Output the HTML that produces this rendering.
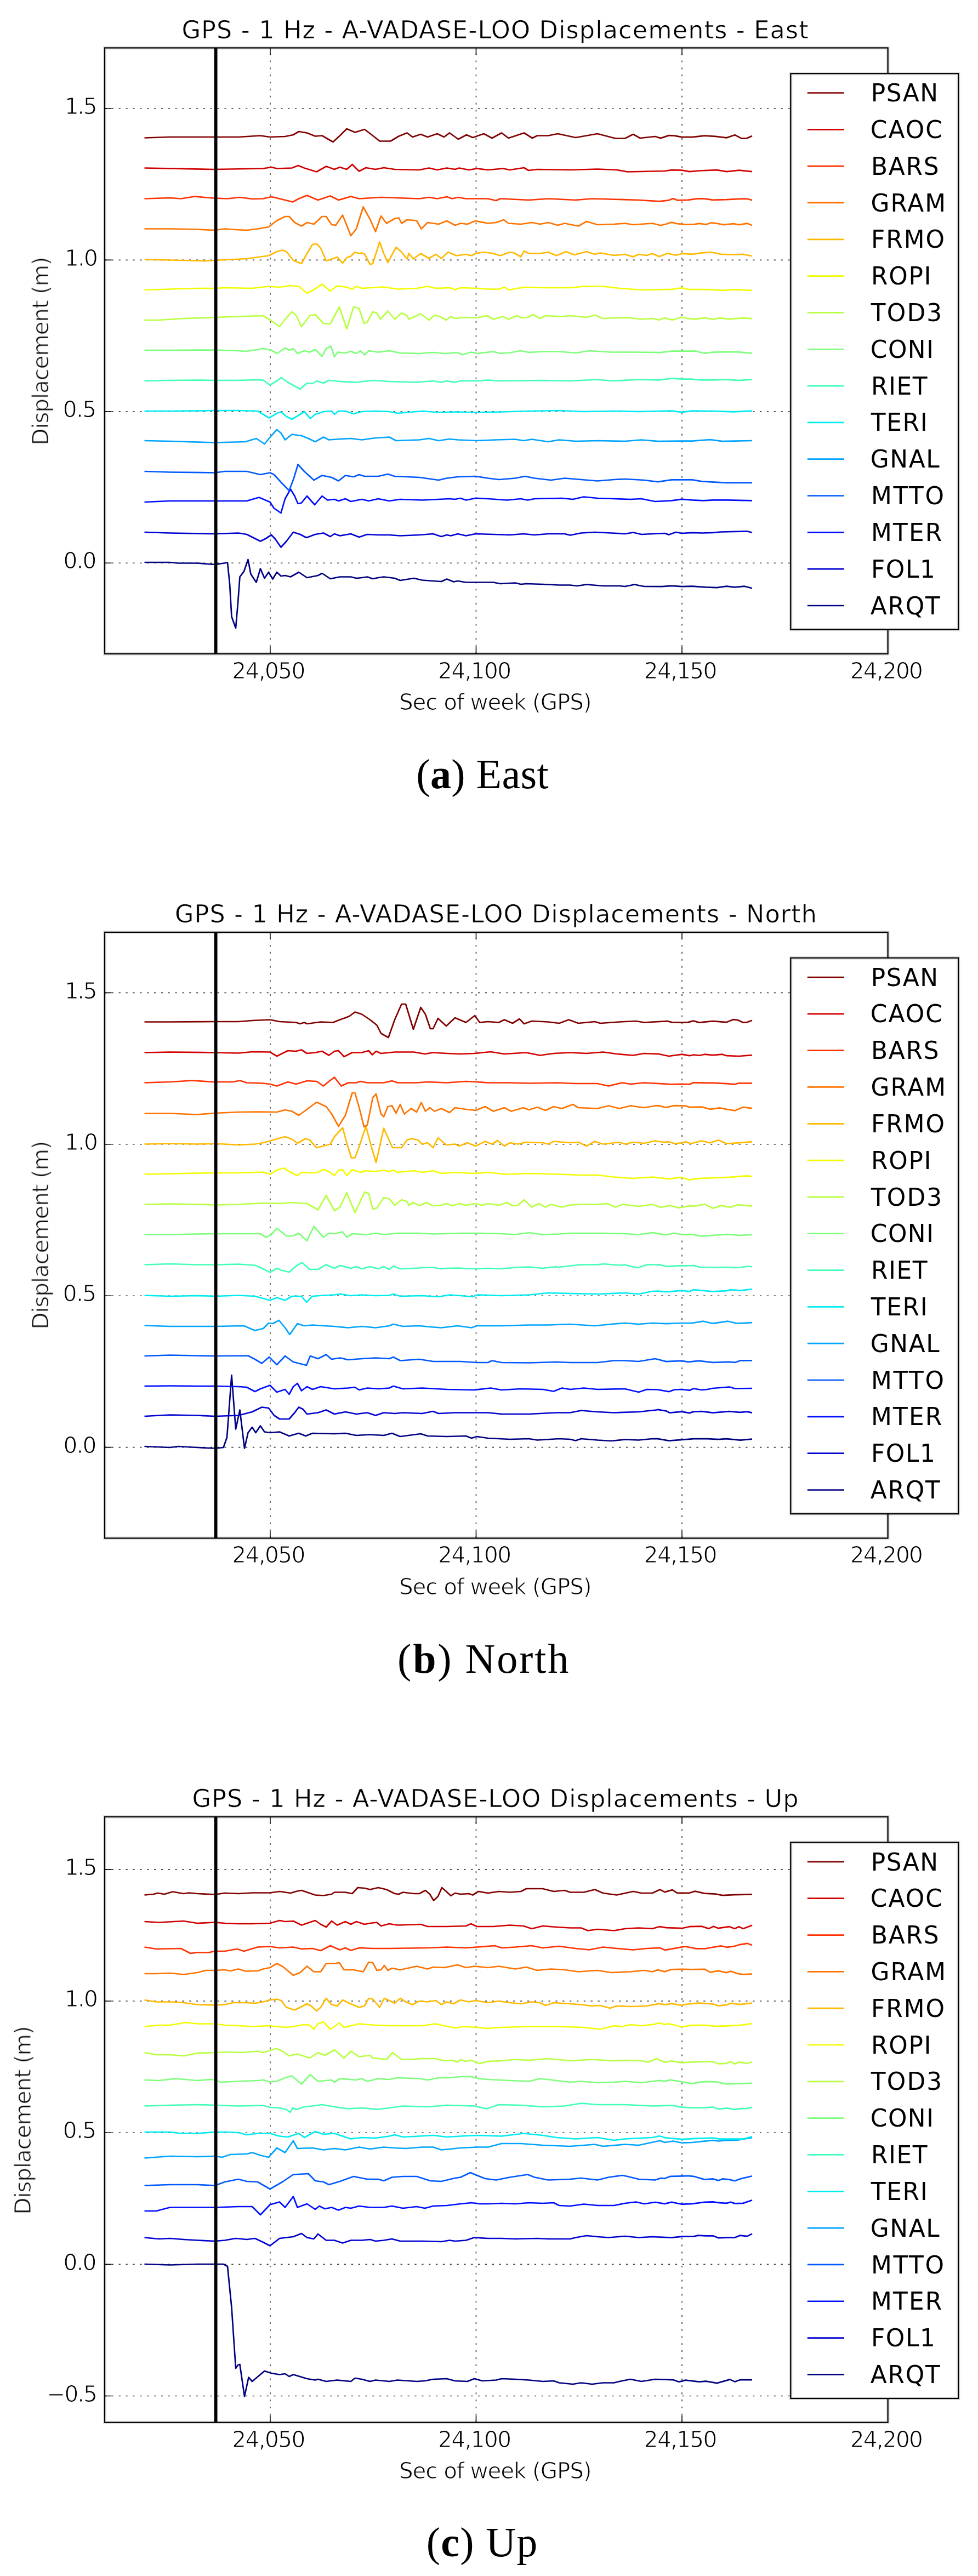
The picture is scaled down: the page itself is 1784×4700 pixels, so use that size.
<!DOCTYPE html><html><head><meta charset="utf-8"><title>GPS 1 Hz A-VADASE-LOO Displacements</title>
<style>html,body{margin:0;padding:0;background:#fff;}svg{display:block;}text{font-family:"DejaVu Sans","Liberation Sans",sans-serif;fill:#000;}.cap{font-family:"Liberation Serif","DejaVu Serif",serif;}.thin{stroke:#fff;stroke-width:1.1px;}.thin2{stroke:#fff;stroke-width:0.6px;}</style></head><body>
<svg width="1784" height="4700" viewBox="0 0 1784 4700">
<rect width="1784" height="4700" fill="#fff"/>
<filter id="soft" filterUnits="userSpaceOnUse" x="0" y="0" width="1784" height="4700"><feGaussianBlur stdDeviation="0.55"/></filter><g filter="url(#soft)">
<g id="plot0">
<clipPath id="clip0"><rect x="191.0" y="87.4" width="1428.60" height="1105.60"/></clipPath>
<path d="M492.90 1193.00V87.40M868.45 1193.00V87.40M1244.00 1193.00V87.40M191.00 1027.20H1619.60M191.00 750.80H1619.60M191.00 474.40H1619.60M191.00 198.00H1619.60" stroke="#333" stroke-width="1.6" stroke-dasharray="3.2 9.65" fill="none"/>
<g clip-path="url(#clip0)" fill="none" stroke-width="2.7" stroke-linejoin="round" stroke-linecap="butt">
<path d="M263.5,1026.0 310.0,1026.0 325.0,1027.5 360.0,1027.5 392.5,1030.0 415.0,1026.5 419.0,1065.0 422.5,1125.0 430.0,1146.0 434.0,1100.0 437.5,1052.5 445.0,1042.5 452.5,1021.0 457.5,1047.5 467.5,1062.5 475.0,1037.5 482.5,1055.0 490.0,1044.0 497.5,1056.5 505.0,1044.0 512.5,1051.0 520.0,1050.0 530.0,1052.5 545.0,1044.0 560.0,1054.0 580.0,1050.0 587.5,1046.0 602.5,1056.0 620.0,1052.5 640.0,1052.5 650.0,1055.0 660.0,1054.0 670.0,1052.5 680.0,1056.0 690.0,1054.0 700.0,1052.5 720.0,1055.0 730.0,1059.0 755.0,1055.0 770.0,1058.5 790.0,1060.0 805.0,1061.0 815.0,1056.5 827.5,1061.5 835.0,1060.0 850.0,1062.5 870.0,1062.5 900.0,1062.5 912.5,1065.0 940.0,1063.5 950.0,1066.0 960.0,1065.0 990.0,1066.0 1020.0,1067.5 1040.0,1067.5 1052.5,1069.0 1070.0,1066.5 1100.0,1069.0 1130.0,1069.0 1140.0,1070.0 1157.5,1066.5 1175.0,1070.0 1207.6,1070.2 1225.2,1068.9 1243.9,1070.2 1262.7,1069.7 1287.8,1071.4 1307.8,1072.2 1325.4,1069.7 1340.4,1071.4 1357.9,1069.7 1372.0,1073.2" stroke="#000080"/>
<path d="M263.5,971.0 310.0,972.5 392.5,974.0 435.0,972.5 450.0,975.0 475.0,987.5 485.0,982.5 495.0,976.0 502.5,984.0 512.5,998.5 522.5,987.5 535.0,971.0 547.5,975.0 559.0,981.0 575.0,975.0 590.0,972.5 602.5,979.0 610.0,974.0 620.0,977.5 640.0,974.0 655.0,980.0 670.0,975.0 690.0,976.0 710.0,976.0 730.0,977.5 765.0,976.0 790.0,974.0 805.0,979.0 815.0,976.0 822.5,977.5 835.0,974.0 850.0,977.5 867.5,974.0 900.0,975.0 930.0,976.0 955.0,974.0 975.0,976.0 1000.0,974.0 1030.0,974.0 1040.0,976.5 1060.0,972.5 1085.0,971.0 1115.0,972.5 1140.0,974.0 1155.0,971.5 1170.0,975.0 1212.6,973.0 1220.1,975.6 1232.7,971.0 1243.9,973.0 1262.7,971.8 1280.3,972.5 1300.3,971.8 1315.3,970.5 1362.9,969.3 1372.0,971.8" stroke="#0000d1"/>
<path d="M263.5,916.0 310.0,914.0 392.5,914.0 450.0,914.0 472.5,907.5 492.5,916.0 500.0,927.5 512.5,936.0 520.0,910.0 530.0,892.5 537.5,905.0 543.5,919.0 550.0,917.5 560.0,905.0 574.0,921.0 587.5,905.0 597.5,912.5 610.0,911.0 617.5,914.0 630.0,910.0 640.0,915.0 660.0,911.0 672.5,914.0 690.0,910.0 710.0,914.0 730.0,911.0 770.0,912.5 800.0,911.0 820.0,910.0 830.0,911.0 840.0,909.0 850.0,912.5 867.5,909.0 890.0,910.0 925.0,912.5 950.0,910.0 962.5,912.5 975.0,910.0 1025.0,909.0 1045.0,911.0 1065.0,906.5 1090.0,909.0 1120.0,910.0 1150.0,911.0 1170.0,910.0 1195.0,915.0 1225.2,913.4 1243.9,910.9 1262.7,912.4 1282.8,913.4 1300.3,912.4 1325.4,912.4 1372.0,913.4" stroke="#0010ff"/>
<path d="M263.5,860.0 310.0,861.5 392.5,862.5 410.0,860.0 450.0,860.0 475.0,866.0 492.5,862.5 500.0,866.0 515.0,882.5 527.5,895.0 536.0,872.5 543.5,847.5 555.0,860.0 572.5,876.0 587.5,867.5 605.0,871.0 617.5,877.5 630.0,867.5 645.0,870.0 655.0,866.0 665.0,869.0 690.0,869.0 707.5,865.0 720.0,869.0 765.0,871.0 800.0,876.0 815.0,872.5 835.0,870.0 867.5,869.0 890.0,872.5 910.0,875.0 940.0,872.5 957.5,869.0 975.0,872.5 1005.0,876.0 1030.0,872.5 1060.0,875.0 1090.0,877.5 1120.0,875.0 1140.0,874.0 1175.0,876.0 1200.1,879.1 1225.2,875.4 1262.7,875.4 1280.3,878.4 1325.4,880.9 1372.0,880.9" stroke="#0058ff"/>
<path d="M263.5,804.0 310.0,805.0 392.5,807.5 430.0,806.5 447.5,806.0 467.5,800.0 482.5,810.0 495.0,795.0 505.0,784.0 512.5,790.0 520.0,802.5 532.5,792.5 550.0,795.0 562.5,800.0 575.0,806.0 590.0,797.5 600.0,802.5 620.0,801.0 640.0,800.0 660.0,802.5 685.0,799.0 710.0,797.5 722.5,804.0 765.0,802.5 782.5,800.0 800.0,804.0 820.0,801.0 835.0,802.5 870.0,804.0 905.0,802.5 940.0,801.5 955.0,804.0 970.0,801.5 1000.0,806.0 1020.0,802.5 1050.0,805.0 1090.0,804.0 1140.0,805.0 1170.0,802.5 1200.1,805.2 1243.9,804.7 1262.7,804.7 1295.3,802.2 1317.8,805.2 1340.4,804.7 1372.0,804.0" stroke="#00a4ff"/>
<path d="M263.5,750.0 310.0,750.0 392.5,749.0 435.0,749.0 470.0,750.0 480.0,756.0 491.0,762.5 505.0,754.0 512.5,751.5 522.5,760.0 532.5,765.0 545.0,757.5 555.0,751.0 566.0,763.5 575.0,756.0 590.0,751.0 605.0,750.0 610.0,756.0 617.5,750.0 630.0,750.0 645.0,755.0 660.0,751.0 685.0,750.0 710.0,751.0 725.0,754.0 770.0,750.0 800.0,752.5 830.0,751.5 870.0,752.5 915.0,751.5 965.0,750.0 1020.0,749.0 1065.0,751.0 1120.0,750.0 1165.0,751.0 1225.2,749.6 1243.9,752.1 1262.7,749.6 1300.3,750.1 1337.9,751.4 1372.0,749.6" stroke="#06ecf1"/>
<path d="M263.5,695.0 310.0,694.0 360.0,693.5 392.5,694.0 430.0,694.0 470.0,693.0 480.0,693.5 492.5,702.5 505.0,695.0 512.5,689.0 525.0,697.5 547.5,710.0 560.0,699.0 570.0,700.0 577.5,695.0 590.0,699.0 600.0,694.0 620.0,696.0 650.0,697.5 680.0,694.0 710.0,696.0 760.0,697.5 790.0,695.0 805.0,697.5 815.0,695.0 829.0,697.5 840.0,695.0 870.0,695.0 890.0,693.5 910.0,695.0 990.0,694.0 1040.0,695.0 1090.0,692.5 1115.0,695.0 1165.0,692.5 1202.6,693.3 1225.2,690.3 1243.9,691.6 1260.2,691.6 1280.3,693.3 1300.3,693.3 1325.4,692.3 1347.9,694.1 1372.0,692.3" stroke="#40ffb7"/>
<path d="M263.5,639.0 310.0,639.0 390.0,638.5 435.0,640.0 450.0,641.0 480.0,636.0 495.0,639.0 505.0,645.0 520.0,635.0 527.5,639.0 535.0,636.0 542.5,645.0 555.0,640.0 565.0,642.5 575.0,637.5 587.5,650.0 595.0,636.0 603.5,631.5 610.0,651.0 616.0,642.5 630.0,644.0 640.0,641.0 650.0,645.0 657.5,640.0 665.0,647.5 672.5,640.0 690.0,642.5 710.0,640.0 730.0,644.0 765.0,645.0 790.0,643.0 810.0,645.0 835.0,643.5 844.0,647.0 860.0,642.5 870.0,645.0 900.0,641.5 912.5,645.0 930.0,643.5 950.0,640.0 965.0,643.0 990.0,641.5 1020.0,641.5 1050.0,644.0 1075.0,640.0 1115.0,642.5 1160.0,642.5 1205.1,643.2 1225.2,640.7 1243.9,640.7 1270.2,640.7 1285.3,644.7 1300.3,642.7 1325.4,642.2 1345.4,642.2 1372.0,644.7" stroke="#7dff7a"/>
<path d="M263.5,584.0 290.0,584.0 335.0,581.0 392.5,579.0 435.0,577.5 480.0,576.0 495.0,585.0 510.0,596.0 520.0,582.5 532.5,569.0 540.0,575.0 550.0,596.0 565.0,576.0 575.0,574.0 590.0,590.0 602.5,591.0 619.0,560.0 632.5,600.0 645.0,560.0 655.0,562.5 664.0,590.0 670.0,587.5 680.0,569.0 687.5,571.0 694.0,582.5 707.5,567.5 720.0,582.5 732.5,571.0 742.5,576.0 746.0,582.5 767.5,572.5 782.5,584.0 792.5,575.0 802.5,577.5 814.0,584.0 822.5,577.5 830.0,581.0 850.0,579.0 867.5,580.0 889.0,576.0 900.0,582.5 917.5,577.5 927.5,582.5 942.5,576.0 952.5,580.0 962.5,579.0 972.5,574.0 985.0,581.0 995.0,576.0 1025.0,577.5 1040.0,576.0 1070.0,579.0 1085.0,575.0 1100.0,581.0 1120.0,580.0 1150.0,580.0 1170.0,582.5 1190.0,581.0 1202.6,583.8 1212.6,580.1 1226.4,583.8 1242.7,578.8 1255.2,581.3 1270.2,582.1 1285.3,579.6 1300.3,582.6 1312.8,580.1 1330.4,582.1 1355.4,580.1 1372.0,581.3" stroke="#b7ff40"/>
<path d="M263.5,529.0 310.0,527.5 360.0,526.0 392.5,526.0 410.0,525.0 460.0,526.0 490.0,522.5 510.0,524.0 530.0,521.0 545.0,522.5 560.0,535.0 570.0,530.0 587.5,518.5 602.5,531.0 615.0,521.5 630.0,523.5 642.5,527.5 650.0,522.5 660.0,526.0 700.0,523.5 725.0,527.5 760.0,526.0 780.0,522.5 795.0,526.0 820.0,525.0 830.0,528.5 840.0,525.0 870.0,526.0 890.0,527.5 910.0,527.5 920.0,524.0 927.5,529.0 950.0,525.0 960.0,524.0 990.0,525.0 1040.0,525.0 1065.0,522.5 1100.0,522.5 1130.0,526.0 1170.0,529.0 1225.2,527.8 1243.9,525.3 1255.2,527.8 1300.3,528.3 1317.8,529.8 1337.9,528.3 1372.0,529.8" stroke="#f1fc06"/>
<path d="M263.5,473.5 335.0,475.0 375.0,476.0 392.5,475.0 410.0,474.0 450.0,472.0 475.0,468.5 490.0,466.5 505.0,459.0 515.0,456.5 522.5,459.0 535.0,475.0 550.0,481.0 560.0,462.5 570.0,446.0 577.5,445.0 585.0,452.5 595.0,476.0 605.0,472.5 615.0,469.0 625.0,480.0 632.5,470.0 640.0,467.5 647.5,460.0 655.0,462.5 660.0,461.5 665.0,463.5 675.0,482.5 680.0,481.0 692.5,441.5 700.0,462.5 707.5,479.0 722.5,451.0 732.5,460.0 742.5,472.5 746.0,462.5 754.0,472.5 767.5,462.5 782.5,471.5 795.0,464.0 805.0,471.5 817.5,460.0 832.5,466.5 850.0,464.0 860.0,466.5 867.5,462.5 882.5,460.0 900.0,462.5 912.5,466.5 930.0,460.0 937.5,461.5 950.0,468.5 956.0,458.0 965.0,462.5 985.0,462.5 1000.0,460.0 1015.0,466.5 1032.5,459.0 1047.5,465.0 1070.0,459.0 1085.0,464.0 1095.0,461.5 1120.0,466.0 1140.0,464.0 1155.0,468.5 1165.0,464.0 1180.0,466.0 1190.0,462.5 1202.6,468.2 1217.6,462.2 1232.7,465.7 1243.9,462.7 1262.7,463.9 1280.3,461.4 1297.8,460.2 1315.3,463.9 1337.9,464.7 1355.4,463.9 1372.0,467.2" stroke="#ffb900"/>
<path d="M263.5,417.5 310.0,417.5 360.0,418.5 392.5,420.0 410.0,417.5 430.0,419.0 450.0,420.0 470.0,417.5 490.0,414.0 505.0,402.5 520.0,395.0 527.5,395.0 537.5,406.0 550.0,412.5 560.0,406.0 572.5,409.0 587.5,395.0 595.0,395.0 605.0,410.0 612.5,411.0 625.0,392.5 640.0,430.0 650.0,417.5 662.5,377.5 675.0,400.0 685.0,422.5 695.0,394.0 705.0,407.5 720.0,399.0 727.5,397.5 732.5,407.5 742.5,401.0 760.0,402.5 768.5,417.5 780.0,406.0 800.0,409.0 815.0,403.0 830.0,411.0 840.0,407.5 852.5,409.0 867.5,403.0 890.0,407.5 905.0,406.0 919.0,401.0 927.5,407.5 950.0,409.0 970.0,406.0 985.0,409.0 1000.0,406.0 1017.5,411.0 1030.0,407.5 1055.0,412.5 1070.0,404.0 1090.0,410.0 1120.0,409.0 1140.0,407.5 1155.0,410.0 1190.0,407.5 1205.1,411.3 1215.1,408.8 1225.2,405.6 1235.2,408.1 1250.2,409.6 1265.2,409.6 1275.3,407.6 1287.8,409.6 1297.8,406.3 1310.3,408.1 1320.3,410.1 1337.9,408.1 1347.9,410.1 1362.9,407.6 1372.0,411.3" stroke="#ff7300"/>
<path d="M263.5,362.5 310.0,361.0 330.0,362.5 355.0,358.5 390.0,361.5 415.0,362.5 437.5,360.0 460.0,363.0 480.0,362.5 495.0,359.0 510.0,362.5 534.0,368.5 545.0,362.5 560.0,356.5 580.0,365.0 602.5,357.5 617.5,365.0 640.0,358.5 655.0,362.5 695.0,360.0 765.0,362.5 782.5,360.0 797.5,362.5 815.0,359.0 825.0,362.5 835.0,360.0 850.0,362.5 890.0,362.5 905.0,366.0 912.5,362.5 965.0,365.0 1000.0,362.5 1050.0,365.0 1080.0,362.5 1165.0,365.0 1202.6,367.3 1220.1,365.3 1227.7,362.3 1235.2,365.3 1255.2,364.8 1272.7,362.3 1287.8,362.8 1300.3,364.8 1325.4,364.1 1350.4,362.8 1362.9,362.8 1372.0,365.3" stroke="#ff3000"/>
<path d="M263.5,306.5 390.0,309.0 480.0,307.5 495.0,305.0 505.0,307.5 532.5,306.5 544.0,302.0 555.0,306.5 577.5,313.5 595.0,303.5 610.0,309.0 620.0,305.0 632.5,309.0 642.5,300.0 655.0,312.5 667.5,306.0 685.0,309.0 700.0,306.0 720.0,309.0 765.0,310.0 782.5,306.5 797.5,310.0 815.0,306.5 830.0,309.0 837.5,306.5 855.0,310.0 870.0,307.5 890.0,310.0 917.5,307.5 930.0,310.0 956.0,306.0 964.0,311.0 980.0,309.0 1040.0,310.0 1090.0,308.5 1125.0,310.0 1145.0,313.5 1190.0,312.5 1212.6,312.0 1225.2,310.2 1243.9,310.7 1257.7,313.2 1275.3,311.5 1307.8,310.2 1325.4,313.2 1347.9,310.7 1372.0,313.2" stroke="#d10000"/>
<path d="M263.5,251.5 310.0,250.0 390.0,250.0 435.0,250.0 475.0,247.5 492.5,250.0 520.0,249.0 535.0,246.0 545.0,240.0 560.0,242.5 575.0,248.5 587.5,247.5 607.5,259.0 620.0,247.5 632.5,235.0 647.5,241.5 665.0,236.0 680.0,247.5 692.5,257.5 712.5,257.5 727.5,248.5 742.5,242.5 752.5,250.0 767.5,245.0 780.0,250.0 797.5,244.0 810.0,250.0 820.0,242.5 836.0,254.0 851.0,246.0 862.5,251.0 882.5,244.0 897.5,252.0 915.0,242.5 927.5,252.0 956.0,242.5 971.0,252.0 980.0,247.5 1000.0,247.5 1017.5,244.0 1050.0,251.0 1090.0,244.0 1122.5,252.5 1140.0,252.5 1155.0,245.0 1167.5,252.0 1195.0,249.0 1205.1,252.1 1220.1,247.1 1230.2,247.6 1243.9,250.1 1262.7,250.1 1285.3,247.6 1305.3,248.8 1325.4,251.4 1340.4,246.3 1352.9,252.6 1361.7,252.6 1372.0,248.1" stroke="#800000"/>
</g>
<path d="M393.60 87.40V1193.00" stroke="#000" stroke-width="5.8"/>
<path d="M492.90 1193.00v-12.6M492.90 87.40v12.6M868.45 1193.00v-12.6M868.45 87.40v12.6M1244.00 1193.00v-12.6M1244.00 87.40v12.6M191.00 1027.20h12.6M1619.60 1027.20h-12.6M191.00 750.80h12.6M1619.60 750.80h-12.6M191.00 474.40h12.6M1619.60 474.40h-12.6M191.00 198.00h12.6M1619.60 198.00h-12.6" stroke="#000" stroke-width="1.6" fill="none"/>
<rect x="191.0" y="87.4" width="1428.60" height="1105.60" fill="none" stroke="#000" stroke-opacity="0.12" stroke-width="6.0"/>
<rect x="191.0" y="87.4" width="1428.60" height="1105.60" fill="none" stroke="#000" stroke-width="2.2"/>
<rect x="1442.3" y="134.20" width="306.00" height="1014.40" fill="#fff" stroke="#000" stroke-opacity="0.12" stroke-width="6.0"/>
<rect x="1442.3" y="134.20" width="306.00" height="1014.40" fill="none" stroke="#000" stroke-width="2.2"/>
<path d="M1472.8 169.50H1539.8" stroke="#800000" stroke-width="2.7"/>
<path d="M1472.8 236.32H1539.8" stroke="#d10000" stroke-width="2.7"/>
<path d="M1472.8 303.14H1539.8" stroke="#ff3000" stroke-width="2.7"/>
<path d="M1472.8 369.96H1539.8" stroke="#ff7300" stroke-width="2.7"/>
<path d="M1472.8 436.78H1539.8" stroke="#ffb900" stroke-width="2.7"/>
<path d="M1472.8 503.60H1539.8" stroke="#f1fc06" stroke-width="2.7"/>
<path d="M1472.8 570.42H1539.8" stroke="#b7ff40" stroke-width="2.7"/>
<path d="M1472.8 637.24H1539.8" stroke="#7dff7a" stroke-width="2.7"/>
<path d="M1472.8 704.06H1539.8" stroke="#40ffb7" stroke-width="2.7"/>
<path d="M1472.8 770.88H1539.8" stroke="#06ecf1" stroke-width="2.7"/>
<path d="M1472.8 837.70H1539.8" stroke="#00a4ff" stroke-width="2.7"/>
<path d="M1472.8 904.52H1539.8" stroke="#0058ff" stroke-width="2.7"/>
<path d="M1472.8 971.34H1539.8" stroke="#0010ff" stroke-width="2.7"/>
<path d="M1472.8 1038.16H1539.8" stroke="#0000d1" stroke-width="2.7"/>
<path d="M1472.8 1104.98H1539.8" stroke="#000080" stroke-width="2.7"/>
</g>
<g id="plot1">
<clipPath id="clip1"><rect x="191.0" y="1700.9" width="1428.60" height="1105.60"/></clipPath>
<path d="M492.90 2806.50V1700.90M868.45 2806.50V1700.90M1244.00 2806.50V1700.90M191.00 2640.60H1619.60M191.00 2364.20H1619.60M191.00 2087.80H1619.60M191.00 1811.40H1619.60" stroke="#333" stroke-width="1.6" stroke-dasharray="3.2 9.65" fill="none"/>
<g clip-path="url(#clip1)" fill="none" stroke-width="2.7" stroke-linejoin="round" stroke-linecap="butt">
<path d="M263.5,2639.0 310.0,2641.0 325.0,2639.0 360.0,2641.0 392.5,2642.5 407.5,2641.0 414.0,2622.5 422.5,2509.0 430.0,2607.5 437.5,2572.5 446.0,2642.5 452.5,2614.0 460.0,2604.0 466.5,2614.0 475.0,2601.5 482.5,2612.5 492.5,2614.0 510.0,2612.5 527.5,2620.0 545.0,2615.0 557.5,2620.0 570.0,2615.0 610.0,2616.0 630.0,2615.0 650.0,2619.0 675.0,2617.5 700.0,2619.0 715.0,2615.0 730.0,2621.0 767.5,2616.0 780.0,2620.0 815.0,2621.0 850.0,2620.0 860.0,2624.0 870.0,2621.0 890.0,2624.0 930.0,2626.0 965.0,2625.0 980.0,2627.5 1020.0,2625.0 1040.0,2626.0 1050.0,2628.5 1060.0,2625.0 1090.0,2627.5 1115.0,2629.0 1140.0,2626.5 1165.0,2627.5 1190.0,2625.0 1200.1,2625.2 1220.1,2628.7 1243.9,2626.9 1265.2,2625.2 1290.3,2625.2 1310.3,2626.2 1325.4,2625.2 1350.4,2627.7 1372.0,2625.7" stroke="#000080"/>
<path d="M263.5,2584.0 310.0,2581.5 360.0,2582.5 392.5,2584.0 435.0,2582.5 460.0,2576.0 477.5,2567.5 490.0,2569.0 500.0,2582.5 510.0,2589.0 527.5,2589.0 537.5,2577.5 545.0,2567.5 552.5,2571.0 560.0,2580.0 580.0,2577.5 595.0,2572.5 610.0,2580.0 630.0,2576.0 650.0,2580.0 670.0,2577.5 685.0,2582.5 700.0,2577.5 720.0,2579.0 735.0,2577.5 770.0,2579.0 790.0,2575.0 800.0,2579.0 830.0,2577.5 870.0,2577.5 890.0,2577.5 915.0,2580.0 965.0,2580.0 1015.0,2577.5 1040.0,2577.5 1060.0,2573.5 1090.0,2576.0 1120.0,2577.5 1165.0,2576.0 1197.5,2572.5 1200.1,2571.8 1215.1,2574.3 1221.4,2577.6 1243.9,2575.6 1257.7,2578.1 1265.2,2575.6 1280.3,2575.1 1300.3,2577.6 1330.4,2575.1 1350.4,2576.8 1362.9,2575.6 1372.0,2577.6" stroke="#0000d1"/>
<path d="M263.5,2529.0 310.0,2528.5 360.0,2529.0 392.5,2529.0 435.0,2530.0 450.0,2531.0 465.0,2539.0 475.0,2534.0 492.5,2527.5 505.0,2540.0 520.0,2535.0 527.5,2544.0 535.0,2530.0 542.5,2524.0 550.0,2537.5 560.0,2530.0 570.0,2535.0 585.0,2530.0 610.0,2534.0 635.0,2532.5 647.5,2531.0 655.0,2536.0 670.0,2532.5 690.0,2534.0 710.0,2532.5 717.5,2529.0 735.0,2534.0 770.0,2532.5 815.0,2535.0 865.0,2536.0 895.0,2532.5 915.0,2536.0 950.0,2534.0 990.0,2535.0 1010.0,2538.5 1025.0,2532.5 1040.0,2535.0 1065.0,2532.5 1090.0,2535.0 1140.0,2534.0 1165.0,2540.0 1180.0,2535.0 1200.1,2535.5 1220.1,2539.2 1230.2,2535.5 1243.9,2535.0 1257.7,2536.7 1265.2,2533.5 1280.3,2536.0 1290.3,2535.0 1300.3,2533.0 1330.4,2530.5 1340.4,2533.5 1372.0,2533.0" stroke="#0010ff"/>
<path d="M263.5,2474.0 310.0,2472.5 360.0,2473.5 392.5,2474.0 452.5,2473.5 465.0,2480.0 477.5,2487.5 491.0,2476.0 505.0,2490.0 520.0,2474.0 535.0,2485.0 559.0,2491.0 566.0,2474.0 580.0,2479.0 595.0,2471.5 605.0,2480.0 620.0,2477.5 635.0,2481.0 660.0,2479.0 685.0,2477.5 710.0,2479.0 717.5,2476.0 730.0,2482.5 765.0,2480.0 790.0,2484.0 840.0,2484.0 870.0,2486.0 890.0,2486.0 897.5,2482.5 915.0,2486.0 965.0,2486.5 1015.0,2485.0 1040.0,2486.0 1090.0,2486.0 1120.0,2482.5 1140.0,2482.5 1165.0,2484.0 1195.0,2479.0 1215.1,2484.1 1243.9,2482.9 1255.2,2484.9 1275.3,2482.9 1300.3,2485.9 1330.4,2484.9 1340.4,2485.9 1350.4,2482.4 1372.0,2482.4" stroke="#0058ff"/>
<path d="M263.5,2418.5 310.0,2420.0 360.0,2420.0 392.5,2420.0 445.0,2419.0 465.0,2427.5 480.0,2424.0 490.0,2414.0 497.5,2415.0 509.0,2409.0 520.0,2422.5 528.5,2435.0 542.5,2415.0 555.0,2419.0 570.0,2417.5 590.0,2419.0 610.0,2420.0 635.0,2422.5 660.0,2420.0 685.0,2422.5 710.0,2419.0 717.5,2416.0 735.0,2420.0 765.0,2419.0 785.0,2421.0 805.0,2422.5 835.0,2419.0 860.0,2422.5 870.0,2419.0 915.0,2419.0 965.0,2417.5 1000.0,2417.5 1040.0,2416.0 1085.0,2419.0 1115.0,2416.0 1140.0,2414.0 1165.0,2416.0 1190.0,2414.0 1215.1,2415.2 1243.9,2414.0 1262.7,2414.0 1282.8,2410.7 1300.3,2414.7 1327.9,2410.7 1345.4,2414.7 1372.0,2413.2" stroke="#00a4ff"/>
<path d="M263.5,2363.5 310.0,2365.0 360.0,2364.0 392.5,2365.0 435.0,2363.5 465.0,2365.0 480.0,2369.0 492.5,2372.5 505.0,2367.5 520.0,2372.5 532.5,2365.0 550.0,2365.0 559.0,2376.0 570.0,2365.0 590.0,2363.5 610.0,2362.5 620.0,2361.0 640.0,2364.0 660.0,2362.5 685.0,2364.0 710.0,2363.5 717.5,2361.0 730.0,2365.0 770.0,2364.0 800.0,2366.0 820.0,2362.5 840.0,2364.0 862.5,2366.0 870.0,2362.5 915.0,2364.0 965.0,2362.5 1000.0,2359.0 1040.0,2360.0 1090.0,2361.0 1140.0,2359.0 1165.0,2361.0 1190.0,2356.0 1200.1,2355.6 1215.1,2357.1 1243.9,2354.6 1257.7,2356.4 1265.2,2353.1 1300.3,2356.4 1325.4,2355.1 1332.9,2353.1 1350.4,2354.6 1372.0,2352.1" stroke="#06ecf1"/>
<path d="M263.5,2307.5 310.0,2306.0 360.0,2307.5 392.5,2307.5 435.0,2306.5 465.0,2308.5 480.0,2315.0 492.5,2321.5 505.0,2314.0 512.5,2317.5 527.5,2321.0 540.0,2310.0 551.0,2303.5 565.0,2316.0 580.0,2316.0 595.0,2307.5 610.0,2314.0 620.0,2309.0 640.0,2314.0 650.0,2311.0 660.0,2315.0 675.0,2311.0 690.0,2315.0 700.0,2311.0 710.0,2316.0 717.5,2310.0 730.0,2315.0 765.0,2313.5 770.0,2312.5 790.0,2312.5 805.0,2315.0 815.0,2314.0 840.0,2313.5 840.0,2314.0 870.0,2315.0 870.0,2315.0 890.0,2314.0 915.0,2315.0 915.0,2315.0 940.0,2312.5 965.0,2311.5 990.0,2314.0 990.0,2314.0 1015.0,2311.0 1015.0,2312.5 1050.0,2308.5 1060.0,2307.5 1090.0,2307.5 1100.0,2306.0 1130.0,2308.5 1140.0,2307.5 1155.0,2311.5 1165.0,2312.5 1180.0,2307.5 1180.0,2307.5 1200.1,2307.5 1202.6,2307.4 1215.1,2310.5 1215.1,2310.9 1243.9,2309.1 1243.9,2309.5 1262.7,2309.1 1265.2,2308.8 1275.3,2311.6 1275.3,2312.0 1300.3,2312.4 1300.3,2312.5 1325.4,2312.0 1337.9,2312.9 1350.4,2312.5 1360.4,2310.9 1362.9,2310.5 1370.9,2310.9 1372.0,2311.3" stroke="#40ffb7"/>
<path d="M263.5,2252.5 310.0,2252.5 360.0,2251.5 392.5,2251.0 435.0,2251.0 475.0,2251.0 485.0,2257.5 495.0,2252.5 505.0,2241.0 522.5,2255.0 535.0,2255.0 545.0,2250.0 560.0,2264.0 572.5,2237.5 590.0,2257.5 600.0,2250.0 610.0,2251.0 625.0,2247.5 632.5,2257.5 642.5,2251.0 670.0,2252.5 685.0,2250.0 700.0,2252.5 725.0,2250.0 765.0,2250.0 790.0,2251.5 840.0,2250.0 870.0,2250.0 915.0,2251.0 940.0,2252.5 965.0,2249.0 990.0,2252.5 1020.0,2251.5 1040.0,2250.0 1065.0,2250.0 1100.0,2250.0 1140.0,2251.0 1165.0,2252.5 1190.0,2249.0 1200.1,2250.7 1215.1,2253.2 1230.2,2249.7 1243.9,2252.7 1260.2,2252.2 1280.3,2255.3 1300.3,2254.0 1325.4,2252.2 1350.4,2254.0 1372.0,2252.7" stroke="#7dff7a"/>
<path d="M263.5,2197.5 310.0,2196.5 360.0,2197.5 392.5,2198.5 435.0,2197.5 480.0,2195.0 510.0,2196.0 530.0,2194.0 560.0,2196.0 567.5,2200.0 580.0,2207.5 595.0,2181.0 610.0,2209.0 620.0,2202.5 632.5,2176.0 647.5,2212.5 665.0,2175.0 672.5,2177.5 680.0,2206.0 687.5,2204.0 700.0,2185.0 710.0,2187.5 720.0,2199.0 732.5,2189.0 742.5,2192.5 746.0,2199.0 754.0,2194.0 765.0,2200.0 777.5,2194.0 790.0,2200.0 805.0,2199.0 815.0,2196.0 825.0,2200.0 837.5,2196.0 850.0,2199.0 867.5,2196.0 880.0,2199.0 890.0,2196.0 910.0,2199.0 925.0,2194.0 935.0,2200.0 945.0,2199.0 956.0,2189.0 970.0,2202.5 982.5,2196.0 995.0,2202.5 1005.0,2197.5 1025.0,2202.5 1040.0,2198.5 1065.0,2197.5 1090.0,2197.5 1107.5,2196.0 1122.5,2202.5 1135.0,2197.5 1165.0,2201.0 1190.0,2197.5 1205.1,2202.6 1222.6,2199.6 1237.7,2203.9 1243.9,2202.6 1255.2,2200.6 1270.2,2200.1 1285.3,2197.1 1300.3,2204.6 1315.3,2199.6 1332.9,2202.6 1345.4,2198.1 1372.0,2200.6" stroke="#b7ff40"/>
<path d="M263.5,2142.5 310.0,2141.5 392.5,2140.0 435.0,2140.0 480.0,2138.5 492.5,2142.5 505.0,2135.0 517.5,2131.0 527.5,2137.5 542.5,2145.0 550.0,2139.0 570.0,2140.0 580.0,2139.0 590.0,2133.5 600.0,2137.5 610.0,2145.0 617.5,2135.0 625.0,2134.0 632.5,2145.0 642.5,2134.0 652.5,2137.5 660.0,2139.0 665.0,2136.0 685.0,2137.5 700.0,2135.0 710.0,2137.5 717.5,2135.0 725.0,2139.0 755.0,2136.0 770.0,2139.0 790.0,2136.0 805.0,2141.0 830.0,2139.0 865.0,2141.0 890.0,2139.0 920.0,2142.5 965.0,2141.0 1020.0,2142.5 1060.0,2144.0 1090.0,2144.0 1120.0,2147.5 1155.0,2150.0 1190.0,2147.5 1220.1,2150.9 1243.9,2147.9 1257.7,2152.9 1270.2,2150.4 1300.3,2149.1 1330.4,2147.9 1362.9,2145.4 1372.0,2146.6" stroke="#f1fc06"/>
<path d="M263.5,2087.5 310.0,2086.5 360.0,2087.5 392.5,2086.5 435.0,2089.0 465.0,2087.5 480.0,2085.0 495.0,2081.0 510.0,2076.5 520.0,2074.0 532.5,2078.5 542.5,2086.0 557.5,2077.5 565.0,2080.0 577.5,2094.0 590.0,2091.0 602.5,2087.5 610.0,2074.0 625.0,2057.5 632.5,2085.0 641.0,2112.5 647.5,2112.5 655.0,2092.5 667.5,2055.0 677.5,2092.5 686.0,2121.0 700.0,2058.5 707.5,2075.0 716.0,2094.0 732.5,2094.0 742.5,2080.0 750.0,2077.5 762.5,2080.0 770.0,2087.5 780.0,2085.0 790.0,2094.0 799.0,2076.0 814.0,2089.0 830.0,2087.5 837.5,2091.0 852.5,2085.0 867.5,2091.0 885.0,2082.5 897.5,2087.5 907.5,2081.0 920.0,2091.0 930.0,2085.0 945.0,2087.5 960.0,2084.0 990.0,2085.0 1000.0,2087.5 1010.0,2082.5 1040.0,2085.0 1055.0,2084.0 1070.0,2091.0 1085.0,2082.5 1100.0,2087.5 1130.0,2084.0 1140.0,2087.5 1155.0,2084.0 1175.0,2086.0 1195.0,2081.5 1210.1,2084.0 1220.1,2083.2 1230.2,2086.5 1243.9,2085.3 1250.2,2083.2 1260.2,2086.5 1280.3,2081.5 1295.3,2085.3 1310.3,2080.2 1325.4,2086.5 1345.4,2085.3 1372.0,2083.2" stroke="#ffb900"/>
<path d="M263.5,2031.5 310.0,2031.5 360.0,2033.5 392.5,2031.0 435.0,2029.0 470.0,2028.5 505.0,2029.0 520.0,2025.0 532.5,2027.5 545.0,2035.0 560.0,2024.0 577.5,2011.0 595.0,2019.0 605.0,2032.5 617.5,2055.0 630.0,2035.0 642.5,1994.0 647.5,1994.0 655.0,2020.0 664.0,2056.0 670.0,2052.5 680.0,2002.5 686.0,1996.0 695.0,2032.5 700.0,2037.5 707.5,2019.0 715.0,2017.5 722.5,2031.0 730.0,2015.0 737.5,2032.5 750.0,2022.5 760.0,2029.0 768.5,2011.5 776.0,2027.5 784.0,2021.0 792.5,2027.5 805.0,2022.5 820.0,2030.0 830.0,2021.0 850.0,2024.0 867.5,2026.0 885.0,2019.0 900.0,2027.5 920.0,2021.0 932.5,2027.5 955.0,2021.0 965.0,2025.0 980.0,2020.0 995.0,2026.0 1010.0,2019.0 1025.0,2022.5 1045.0,2015.0 1055.0,2021.0 1090.0,2022.5 1110.0,2017.5 1130.0,2022.5 1150.0,2017.5 1175.0,2021.0 1195.0,2017.5 1200.1,2017.1 1215.1,2020.6 1230.2,2017.1 1250.2,2017.6 1257.7,2020.1 1280.3,2019.6 1295.3,2023.9 1312.8,2021.4 1325.4,2023.9 1340.4,2026.4 1355.4,2020.1 1372.0,2022.1" stroke="#ff7300"/>
<path d="M263.5,1975.5 310.0,1974.0 350.0,1971.5 390.0,1974.0 425.0,1974.0 437.5,1971.5 450.0,1975.5 480.0,1976.5 492.5,1978.0 505.0,1981.5 525.0,1974.0 540.0,1978.0 560.0,1972.0 577.5,1973.0 590.0,1981.5 600.0,1973.0 610.0,1965.5 622.5,1981.5 635.0,1975.5 650.0,1975.5 657.5,1973.0 670.0,1975.5 700.0,1975.5 715.0,1972.0 725.0,1975.5 760.0,1975.5 780.0,1974.0 815.0,1975.5 850.0,1973.0 870.0,1974.0 890.0,1975.5 930.0,1975.5 965.0,1976.5 1015.0,1975.5 1050.0,1977.0 1090.0,1977.0 1110.0,1981.5 1135.0,1975.5 1150.0,1978.0 1175.0,1975.5 1225.2,1978.3 1243.9,1977.8 1257.7,1978.3 1265.2,1975.3 1300.3,1975.8 1325.4,1977.1 1340.4,1978.3 1347.9,1976.3 1372.0,1976.3" stroke="#ff3000"/>
<path d="M263.5,1920.5 310.0,1919.5 392.5,1920.5 435.0,1921.5 460.0,1919.0 492.5,1919.5 505.0,1927.0 525.0,1917.0 540.0,1918.0 550.0,1915.5 560.0,1922.0 575.0,1920.5 587.5,1918.0 600.0,1925.5 610.0,1918.0 617.5,1917.0 627.5,1928.0 642.5,1920.5 660.0,1920.5 672.5,1917.0 679.0,1924.5 686.0,1918.0 695.0,1922.0 720.0,1919.5 755.0,1919.5 775.0,1923.0 790.0,1920.5 815.0,1922.0 840.0,1923.0 865.0,1922.0 895.0,1919.0 920.0,1923.0 960.0,1920.5 985.0,1925.5 1010.0,1922.0 1040.0,1920.5 1070.0,1922.0 1100.0,1919.5 1125.0,1923.0 1155.0,1925.5 1175.0,1922.0 1202.6,1923.2 1220.1,1927.0 1243.9,1923.7 1257.7,1926.2 1265.2,1924.5 1275.3,1925.7 1285.3,1923.7 1300.3,1925.2 1317.8,1923.7 1325.4,1926.2 1347.9,1927.0 1372.0,1925.2" stroke="#d10000"/>
<path d="M263.5,1864.5 310.0,1864.5 392.5,1864.0 435.0,1864.0 460.0,1862.0 492.5,1860.5 510.0,1864.0 540.0,1865.5 547.5,1868.0 555.0,1865.5 560.0,1868.0 585.0,1864.5 607.5,1865.5 620.0,1860.5 630.0,1857.0 637.5,1854.0 647.5,1846.5 660.0,1850.5 675.0,1860.5 687.5,1870.5 695.0,1885.5 708.5,1893.0 720.0,1860.5 732.5,1832.0 740.0,1832.0 754.0,1878.0 767.5,1838.0 776.0,1850.5 785.0,1877.0 790.0,1877.0 799.0,1858.0 814.0,1872.0 830.0,1857.0 850.0,1865.5 866.0,1853.0 875.0,1865.5 890.0,1864.0 910.0,1865.5 920.0,1860.5 935.0,1867.0 947.5,1859.0 956.0,1868.0 970.0,1863.0 1000.0,1864.5 1020.0,1867.0 1037.5,1860.5 1055.0,1867.0 1085.0,1864.0 1095.0,1867.0 1130.0,1864.5 1160.0,1863.0 1175.0,1865.5 1217.6,1863.1 1225.2,1865.1 1243.9,1865.6 1255.2,1865.1 1265.2,1862.6 1275.3,1865.6 1300.3,1863.1 1325.4,1865.1 1337.9,1860.1 1345.4,1861.1 1355.4,1865.6 1362.9,1865.1 1372.0,1861.8" stroke="#800000"/>
</g>
<path d="M393.60 1700.90V2806.50" stroke="#000" stroke-width="5.8"/>
<path d="M492.90 2806.50v-12.6M492.90 1700.90v12.6M868.45 2806.50v-12.6M868.45 1700.90v12.6M1244.00 2806.50v-12.6M1244.00 1700.90v12.6M191.00 2640.60h12.6M1619.60 2640.60h-12.6M191.00 2364.20h12.6M1619.60 2364.20h-12.6M191.00 2087.80h12.6M1619.60 2087.80h-12.6M191.00 1811.40h12.6M1619.60 1811.40h-12.6" stroke="#000" stroke-width="1.6" fill="none"/>
<rect x="191.0" y="1700.9" width="1428.60" height="1105.60" fill="none" stroke="#000" stroke-opacity="0.12" stroke-width="6.0"/>
<rect x="191.0" y="1700.9" width="1428.60" height="1105.60" fill="none" stroke="#000" stroke-width="2.2"/>
<rect x="1442.3" y="1747.70" width="306.00" height="1014.40" fill="#fff" stroke="#000" stroke-opacity="0.12" stroke-width="6.0"/>
<rect x="1442.3" y="1747.70" width="306.00" height="1014.40" fill="none" stroke="#000" stroke-width="2.2"/>
<path d="M1472.8 1783.00H1539.8" stroke="#800000" stroke-width="2.7"/>
<path d="M1472.8 1849.82H1539.8" stroke="#d10000" stroke-width="2.7"/>
<path d="M1472.8 1916.64H1539.8" stroke="#ff3000" stroke-width="2.7"/>
<path d="M1472.8 1983.46H1539.8" stroke="#ff7300" stroke-width="2.7"/>
<path d="M1472.8 2050.28H1539.8" stroke="#ffb900" stroke-width="2.7"/>
<path d="M1472.8 2117.10H1539.8" stroke="#f1fc06" stroke-width="2.7"/>
<path d="M1472.8 2183.92H1539.8" stroke="#b7ff40" stroke-width="2.7"/>
<path d="M1472.8 2250.74H1539.8" stroke="#7dff7a" stroke-width="2.7"/>
<path d="M1472.8 2317.56H1539.8" stroke="#40ffb7" stroke-width="2.7"/>
<path d="M1472.8 2384.38H1539.8" stroke="#06ecf1" stroke-width="2.7"/>
<path d="M1472.8 2451.20H1539.8" stroke="#00a4ff" stroke-width="2.7"/>
<path d="M1472.8 2518.02H1539.8" stroke="#0058ff" stroke-width="2.7"/>
<path d="M1472.8 2584.84H1539.8" stroke="#0010ff" stroke-width="2.7"/>
<path d="M1472.8 2651.66H1539.8" stroke="#0000d1" stroke-width="2.7"/>
<path d="M1472.8 2718.48H1539.8" stroke="#000080" stroke-width="2.7"/>
</g>
<g id="plot2">
<clipPath id="clip2"><rect x="191.0" y="3314.8" width="1428.60" height="1105.00"/></clipPath>
<path d="M492.90 4419.80V3314.80M868.45 4419.80V3314.80M1244.00 4419.80V3314.80M191.00 4371.57H1619.60M191.00 4131.40H1619.60M191.00 3891.22H1619.60M191.00 3651.05H1619.60M191.00 3410.87H1619.60" stroke="#333" stroke-width="1.6" stroke-dasharray="3.2 9.65" fill="none"/>
<g clip-path="url(#clip2)" fill="none" stroke-width="2.7" stroke-linejoin="round" stroke-linecap="butt">
<path d="M263.5,4131.0 310.0,4132.5 360.0,4131.0 392.5,4131.0 407.5,4131.0 415.0,4135.0 422.5,4210.0 430.0,4321.0 434.0,4315.0 437.5,4314.0 446.0,4372.5 453.5,4337.5 460.0,4345.0 482.5,4326.0 495.0,4330.0 510.0,4332.5 520.0,4331.0 527.5,4336.0 535.0,4332.5 560.0,4340.0 575.0,4342.5 580.0,4341.0 595.0,4345.0 615.0,4342.5 640.0,4345.0 647.5,4339.0 660.0,4341.0 675.0,4345.0 685.0,4342.5 700.0,4344.0 710.0,4345.0 725.0,4342.5 760.0,4345.0 775.0,4344.0 790.0,4341.0 815.0,4340.0 830.0,4344.0 852.5,4345.0 865.0,4340.0 880.0,4344.0 905.0,4342.5 915.0,4340.0 940.0,4341.0 965.0,4342.5 990.0,4345.0 1010.0,4344.0 1020.0,4347.5 1045.0,4350.0 1060.0,4347.5 1080.0,4350.0 1100.0,4347.5 1120.0,4347.5 1130.0,4345.0 1150.0,4341.0 1170.0,4345.0 1195.0,4341.0 1227.7,4342.1 1237.7,4345.6 1243.9,4344.6 1250.2,4342.6 1275.3,4345.6 1287.8,4344.6 1307.8,4348.1 1320.3,4344.6 1331.6,4341.4 1340.4,4345.6 1350.4,4342.1 1372.0,4342.1" stroke="#000080"/>
<path d="M263.5,4082.5 290.0,4085.0 310.0,4084.0 335.0,4086.0 360.0,4087.5 392.5,4089.0 410.0,4087.5 430.0,4084.0 450.0,4086.0 465.0,4084.0 480.0,4091.0 492.5,4097.5 510.0,4084.0 535.0,4081.0 550.0,4075.0 560.0,4082.5 572.5,4085.0 580.0,4076.0 595.0,4087.5 610.0,4087.5 625.0,4092.5 640.0,4087.5 660.0,4087.5 675.0,4086.0 685.0,4089.0 700.0,4087.5 715.0,4085.0 730.0,4089.0 770.0,4089.0 805.0,4090.0 820.0,4087.5 830.0,4089.0 850.0,4087.5 865.0,4082.5 890.0,4084.0 915.0,4084.0 940.0,4085.0 980.0,4084.0 1000.0,4085.0 1040.0,4085.0 1050.0,4082.5 1070.0,4079.0 1090.0,4081.0 1110.0,4082.5 1140.0,4080.0 1165.0,4082.5 1190.0,4081.0 1225.2,4082.6 1243.9,4080.6 1265.2,4080.6 1272.7,4078.6 1287.8,4079.3 1300.3,4079.3 1310.3,4083.1 1325.4,4082.6 1340.4,4082.6 1350.4,4078.6 1362.9,4080.1 1372.0,4075.6" stroke="#0000d1"/>
<path d="M263.5,4034.0 285.0,4034.0 310.0,4027.5 335.0,4027.5 360.0,4027.5 392.5,4027.5 435.0,4026.0 460.0,4026.0 475.0,4041.0 492.5,4022.5 510.0,4017.5 520.0,4027.5 535.0,4007.5 542.5,4027.5 560.0,4021.0 575.0,4031.0 582.5,4025.0 592.5,4030.0 605.0,4027.5 617.5,4032.5 630.0,4027.5 640.0,4029.0 655.0,4025.0 675.0,4027.5 700.0,4027.5 715.0,4025.0 735.0,4029.0 760.0,4026.0 775.0,4029.0 790.0,4025.0 815.0,4024.0 840.0,4021.0 860.0,4019.0 875.0,4021.0 890.0,4021.0 915.0,4020.0 940.0,4021.0 965.0,4019.0 990.0,4020.0 1010.0,4019.0 1020.0,4024.0 1040.0,4025.0 1065.0,4021.5 1090.0,4024.0 1120.0,4024.0 1140.0,4020.0 1160.0,4017.5 1175.0,4021.0 1195.0,4018.0 1212.6,4020.9 1225.2,4017.9 1243.9,4021.7 1262.7,4020.9 1285.3,4017.9 1300.3,4017.4 1312.8,4019.2 1325.4,4019.9 1332.9,4017.9 1340.4,4020.4 1355.4,4019.9 1372.0,4014.2" stroke="#0010ff"/>
<path d="M263.5,3987.5 310.0,3986.0 360.0,3986.0 392.5,3987.5 410.0,3981.0 435.0,3976.0 450.0,3980.0 470.0,3981.0 492.5,3994.0 515.0,3981.0 535.0,3967.5 562.5,3966.0 575.0,3979.0 590.0,3981.0 600.0,3986.0 620.0,3980.0 645.0,3971.0 670.0,3976.0 690.0,3976.0 700.0,3979.0 715.0,3972.5 735.0,3971.0 760.0,3971.0 785.0,3979.0 805.0,3980.0 830.0,3974.0 840.0,3972.5 858.0,3964.0 870.0,3969.0 885.0,3975.0 905.0,3977.5 930.0,3972.5 962.5,3967.5 975.0,3972.5 1000.0,3977.5 1040.0,3976.0 1060.0,3974.0 1090.0,3977.5 1110.0,3972.5 1135.0,3969.0 1145.0,3971.0 1165.0,3976.0 1195.0,3977.5 1205.1,3974.1 1212.6,3974.8 1222.6,3970.8 1243.9,3970.3 1255.2,3969.8 1265.2,3970.8 1285.3,3976.6 1300.3,3975.4 1310.3,3978.4 1317.8,3975.4 1330.4,3976.6 1340.4,3979.1 1350.4,3975.4 1372.0,3970.3" stroke="#0058ff"/>
<path d="M263.5,3937.5 310.0,3934.0 360.0,3935.0 392.5,3934.0 405.0,3936.0 420.0,3931.0 450.0,3930.0 460.0,3927.5 475.0,3932.5 490.0,3936.0 505.0,3919.0 520.0,3927.5 535.0,3906.0 542.5,3920.0 570.0,3919.0 590.0,3922.5 610.0,3920.0 630.0,3922.5 655.0,3917.5 675.0,3921.0 700.0,3917.5 720.0,3919.0 740.0,3920.0 770.0,3917.5 790.0,3917.5 805.0,3922.5 840.0,3919.0 870.0,3917.5 890.0,3917.5 915.0,3911.0 950.0,3911.0 990.0,3914.0 1040.0,3916.0 1085.0,3912.5 1100.0,3916.0 1140.0,3912.5 1165.0,3914.0 1203.9,3905.7 1212.6,3909.0 1227.7,3906.5 1243.9,3909.7 1262.7,3909.0 1280.3,3907.2 1300.3,3905.2 1310.3,3906.5 1325.4,3905.2 1345.4,3904.7 1372.0,3900.2" stroke="#00a4ff"/>
<path d="M263.5,3890.0 310.0,3890.0 330.0,3892.5 360.0,3892.5 392.5,3890.0 410.0,3890.0 435.0,3891.0 450.0,3895.0 470.0,3892.5 492.5,3892.5 510.0,3897.5 525.0,3899.0 545.0,3892.5 555.0,3900.0 575.0,3889.0 590.0,3894.0 610.0,3892.5 640.0,3902.5 660.0,3900.0 685.0,3901.0 710.0,3897.5 720.0,3895.0 735.0,3899.0 765.0,3897.5 790.0,3896.0 815.0,3899.0 840.0,3897.5 870.0,3896.0 915.0,3897.5 955.0,3892.5 990.0,3896.0 1015.0,3900.0 1050.0,3902.5 1090.0,3900.0 1120.0,3905.0 1140.0,3902.5 1190.0,3900.0 1202.6,3897.2 1215.1,3900.7 1243.9,3903.2 1262.7,3902.2 1300.3,3900.7 1312.8,3902.7 1337.9,3902.7 1355.4,3902.7 1372.0,3898.2" stroke="#06ecf1"/>
<path d="M263.5,3842.5 310.0,3841.0 360.0,3840.0 392.5,3841.0 435.0,3842.5 480.0,3841.5 492.5,3845.0 510.0,3846.0 522.5,3849.0 529.0,3854.0 534.0,3846.0 540.0,3849.0 555.0,3844.0 570.0,3842.5 587.5,3840.0 610.0,3844.0 635.0,3847.5 660.0,3846.0 690.0,3848.5 710.0,3846.0 735.0,3842.5 780.0,3844.0 815.0,3841.0 865.0,3842.5 887.5,3847.5 910.0,3840.0 950.0,3841.0 990.0,3844.0 1030.0,3842.5 1060.0,3837.5 1090.0,3840.0 1140.0,3840.0 1190.0,3842.5 1200.1,3842.1 1225.2,3841.3 1243.9,3844.6 1262.7,3845.6 1280.3,3845.6 1300.3,3844.6 1310.3,3848.1 1325.4,3846.3 1340.4,3848.8 1350.4,3847.1 1362.9,3847.1 1372.0,3844.6" stroke="#40ffb7"/>
<path d="M263.5,3795.0 290.0,3796.0 320.0,3792.5 360.0,3796.0 385.0,3794.0 392.5,3795.0 402.5,3799.0 435.0,3797.5 470.0,3796.0 480.0,3795.0 492.5,3798.5 505.0,3797.5 520.0,3791.0 532.5,3787.5 550.0,3802.5 566.0,3785.0 580.0,3797.5 595.0,3796.0 605.0,3795.0 610.0,3799.0 620.0,3792.5 650.0,3795.0 660.0,3792.5 670.0,3797.5 690.0,3792.5 710.0,3794.0 725.0,3791.0 765.0,3792.5 780.0,3795.0 800.0,3791.0 820.0,3791.0 840.0,3789.0 860.0,3789.0 872.5,3792.5 890.0,3794.0 930.0,3796.0 965.0,3797.5 985.0,3792.5 1015.0,3796.0 1040.0,3799.0 1060.0,3797.5 1090.0,3800.0 1120.0,3799.0 1140.0,3797.5 1170.0,3800.0 1190.0,3797.5 1202.6,3795.9 1212.6,3797.4 1222.6,3794.9 1243.9,3798.4 1262.7,3801.6 1285.3,3797.9 1305.3,3798.4 1325.4,3802.4 1350.4,3801.6 1372.0,3800.9" stroke="#7dff7a"/>
<path d="M263.5,3745.0 285.0,3749.0 310.0,3749.0 335.0,3751.0 360.0,3746.0 392.5,3745.0 410.0,3744.0 440.0,3745.0 470.0,3742.5 480.0,3745.0 492.5,3741.0 505.0,3737.5 515.0,3742.5 527.5,3751.0 542.5,3747.5 565.0,3755.0 580.0,3745.0 592.5,3750.0 610.0,3740.0 627.5,3755.0 640.0,3742.5 655.0,3752.5 675.0,3750.0 680.0,3755.0 705.0,3757.5 716.0,3745.0 732.5,3757.5 750.0,3757.5 770.0,3756.0 795.0,3756.0 810.0,3760.0 825.0,3759.0 835.0,3762.5 840.0,3758.0 850.0,3761.0 860.0,3759.0 867.5,3762.5 875.0,3765.0 890.0,3761.0 915.0,3760.0 940.0,3757.5 965.0,3759.0 1000.0,3756.0 1040.0,3760.0 1080.0,3757.5 1115.0,3760.0 1140.0,3759.0 1170.0,3760.0 1182.5,3762.5 1197.5,3756.0 1212.6,3762.8 1225.2,3760.3 1243.9,3763.3 1275.3,3761.6 1300.3,3761.6 1310.3,3765.3 1325.4,3764.8 1332.9,3761.6 1340.4,3765.8 1347.9,3762.3 1362.9,3764.8 1372.0,3762.3" stroke="#b7ff40"/>
<path d="M263.5,3697.5 290.0,3695.0 310.0,3695.0 340.0,3690.0 360.0,3692.5 392.5,3692.5 410.0,3695.0 435.0,3696.0 460.0,3697.5 490.0,3696.0 520.0,3699.0 535.0,3697.5 555.0,3694.0 565.0,3695.0 572.5,3702.5 580.0,3692.5 590.0,3689.0 602.5,3702.5 610.0,3697.5 619.0,3691.0 627.5,3699.0 655.0,3692.5 685.0,3695.0 710.0,3696.0 770.0,3696.0 795.0,3692.5 810.0,3696.0 830.0,3700.0 845.0,3697.5 870.0,3699.0 887.5,3701.0 915.0,3699.0 965.0,3697.5 1015.0,3697.5 1065.0,3699.0 1095.0,3702.5 1120.0,3696.0 1135.0,3697.5 1150.0,3694.0 1170.0,3696.0 1190.0,3694.0 1203.9,3690.7 1212.6,3693.9 1220.1,3692.2 1243.9,3698.2 1262.7,3695.2 1287.8,3695.2 1305.3,3697.2 1325.4,3696.4 1350.4,3695.2 1372.0,3692.2" stroke="#f1fc06"/>
<path d="M263.5,3649.0 285.0,3652.5 310.0,3652.5 335.0,3654.0 360.0,3657.5 392.5,3658.5 410.0,3657.5 425.0,3654.0 450.0,3654.0 465.0,3655.0 480.0,3652.5 492.5,3649.0 505.0,3647.5 512.5,3650.0 522.5,3662.5 537.5,3667.5 547.5,3662.5 560.0,3656.0 567.5,3660.0 577.5,3669.0 585.0,3662.5 595.0,3646.0 605.0,3657.5 615.0,3660.0 625.0,3649.0 635.0,3654.0 655.0,3662.5 665.0,3660.0 672.5,3646.0 680.0,3647.5 692.5,3662.5 701.0,3646.0 710.0,3650.0 720.0,3655.0 730.0,3646.0 740.0,3652.5 752.5,3657.5 765.0,3651.0 780.0,3652.5 795.0,3650.0 805.0,3657.5 815.0,3652.5 827.5,3656.0 840.0,3649.0 855.0,3652.5 867.5,3650.0 890.0,3654.0 910.0,3651.0 930.0,3654.0 950.0,3656.0 970.0,3652.5 985.0,3654.0 995.0,3659.0 1010.0,3654.0 1040.0,3656.0 1060.0,3657.5 1080.0,3660.0 1095.0,3659.0 1112.5,3664.0 1125.0,3660.0 1150.0,3661.0 1180.0,3660.0 1202.6,3655.6 1212.6,3657.6 1225.2,3655.6 1243.9,3658.8 1255.2,3656.3 1275.3,3654.6 1290.3,3655.6 1300.3,3656.3 1310.3,3659.6 1325.4,3658.1 1332.9,3655.1 1350.4,3657.1 1372.0,3654.6" stroke="#ffb900"/>
<path d="M263.5,3601.0 285.0,3601.0 310.0,3600.0 335.0,3602.5 360.0,3599.0 375.0,3595.0 392.5,3595.0 410.0,3594.0 420.0,3596.0 435.0,3592.5 447.5,3596.5 470.0,3596.0 480.0,3592.5 492.5,3590.0 505.0,3582.5 515.0,3587.5 535.0,3604.0 547.5,3599.0 560.0,3587.5 572.5,3597.5 585.0,3597.5 595.0,3582.5 610.0,3582.5 619.0,3581.0 627.5,3594.0 645.0,3594.0 662.5,3597.5 672.5,3580.0 680.0,3581.0 687.5,3595.0 695.0,3594.0 701.0,3586.0 707.5,3595.0 715.0,3591.0 730.0,3594.0 760.0,3587.5 780.0,3592.5 790.0,3589.0 810.0,3590.0 835.0,3585.0 850.0,3590.0 865.0,3587.5 890.0,3590.0 910.0,3587.5 940.0,3592.5 960.0,3589.0 980.0,3595.0 1005.0,3592.5 1030.0,3594.0 1055.0,3597.5 1090.0,3595.0 1115.0,3599.0 1150.0,3597.5 1175.0,3595.0 1190.0,3597.5 1200.1,3594.1 1212.6,3597.4 1225.2,3593.3 1243.9,3592.8 1262.7,3593.3 1285.3,3592.8 1295.3,3598.4 1310.3,3595.9 1325.4,3599.1 1332.9,3596.6 1345.4,3600.9 1355.4,3602.4 1372.0,3601.6" stroke="#ff7300"/>
<path d="M263.5,3552.5 285.0,3556.0 330.0,3555.0 347.5,3564.0 360.0,3562.5 380.0,3562.5 392.5,3560.0 410.0,3560.0 432.5,3556.0 445.0,3560.0 470.0,3552.5 492.5,3551.5 510.0,3554.0 535.0,3552.5 550.0,3556.0 570.0,3555.0 585.0,3559.0 602.5,3550.0 620.0,3557.5 630.0,3554.0 640.0,3558.5 655.0,3554.0 680.0,3555.0 710.0,3555.0 780.0,3554.0 815.0,3552.5 850.0,3554.0 870.0,3552.5 902.5,3550.0 915.0,3554.0 940.0,3552.5 970.0,3550.0 990.0,3554.0 1020.0,3551.0 1050.0,3555.0 1075.0,3557.5 1100.0,3552.5 1125.0,3555.0 1155.0,3557.5 1180.0,3555.0 1203.9,3554.0 1212.6,3557.8 1225.2,3555.8 1243.9,3552.3 1250.2,3551.5 1270.2,3555.3 1287.8,3555.3 1300.3,3552.8 1315.3,3550.3 1325.4,3552.8 1340.4,3550.8 1350.4,3547.8 1362.9,3545.8 1372.0,3549.0" stroke="#ff3000"/>
<path d="M263.5,3506.0 290.0,3507.5 335.0,3505.0 360.0,3509.0 392.5,3507.5 410.0,3509.0 435.0,3510.0 460.0,3510.0 492.5,3509.0 510.0,3504.0 520.0,3506.0 535.0,3505.0 550.0,3512.5 560.0,3509.0 575.0,3504.0 585.0,3511.0 595.0,3516.0 605.0,3505.0 615.0,3512.5 630.0,3506.0 640.0,3511.0 650.0,3506.0 665.0,3511.0 675.0,3509.0 687.5,3507.5 695.0,3514.0 710.0,3510.0 725.0,3512.5 767.5,3511.0 780.0,3515.0 815.0,3515.0 850.0,3514.0 859.0,3510.0 870.0,3515.0 900.0,3515.0 930.0,3512.5 955.0,3514.0 970.0,3519.0 990.0,3514.0 1015.0,3516.0 1040.0,3517.5 1060.0,3517.5 1072.5,3522.5 1090.0,3520.0 1120.0,3522.5 1140.0,3519.0 1165.0,3517.5 1190.0,3519.0 1202.6,3515.2 1215.1,3517.2 1243.9,3518.2 1257.7,3515.2 1280.3,3514.7 1292.8,3518.9 1301.6,3514.7 1310.3,3518.2 1330.4,3515.2 1340.4,3518.9 1347.9,3515.2 1355.4,3518.9 1372.0,3512.7" stroke="#d10000"/>
<path d="M263.5,3457.5 280.0,3456.0 287.5,3454.0 300.0,3456.0 315.0,3451.5 335.0,3455.0 345.0,3453.5 360.0,3455.0 392.5,3456.5 410.0,3454.0 435.0,3455.0 460.0,3453.5 492.5,3453.5 510.0,3451.0 530.0,3454.0 540.0,3451.0 550.0,3449.0 560.0,3452.5 575.0,3457.5 590.0,3458.5 605.0,3456.0 610.0,3452.5 630.0,3452.5 642.5,3455.0 652.5,3444.0 665.0,3445.0 675.0,3447.5 690.0,3444.0 705.0,3447.5 720.0,3455.0 727.5,3456.0 735.0,3452.5 755.0,3455.0 765.0,3455.0 776.0,3449.0 784.0,3456.0 791.0,3467.5 799.0,3460.0 806.0,3444.0 814.0,3451.0 822.5,3459.0 830.0,3454.0 840.0,3456.0 855.0,3455.0 862.5,3457.5 872.5,3451.0 890.0,3454.0 910.0,3451.0 930.0,3452.5 950.0,3451.0 960.0,3446.0 990.0,3446.0 1010.0,3451.0 1030.0,3449.0 1040.0,3452.5 1065.0,3452.5 1085.0,3447.5 1100.0,3454.0 1125.0,3457.5 1155.0,3451.0 1170.0,3454.0 1190.0,3454.0 1203.9,3447.6 1212.6,3452.1 1226.4,3448.1 1235.2,3453.8 1257.7,3453.8 1267.7,3450.6 1285.3,3454.6 1305.3,3455.6 1317.8,3458.1 1337.9,3457.1 1372.0,3456.3" stroke="#800000"/>
</g>
<path d="M393.60 3314.80V4419.80" stroke="#000" stroke-width="5.8"/>
<path d="M492.90 4419.80v-12.6M492.90 3314.80v12.6M868.45 4419.80v-12.6M868.45 3314.80v12.6M1244.00 4419.80v-12.6M1244.00 3314.80v12.6M191.00 4371.57h12.6M1619.60 4371.57h-12.6M191.00 4131.40h12.6M1619.60 4131.40h-12.6M191.00 3891.22h12.6M1619.60 3891.22h-12.6M191.00 3651.05h12.6M1619.60 3651.05h-12.6M191.00 3410.87h12.6M1619.60 3410.87h-12.6" stroke="#000" stroke-width="1.6" fill="none"/>
<rect x="191.0" y="3314.8" width="1428.60" height="1105.00" fill="none" stroke="#000" stroke-opacity="0.12" stroke-width="6.0"/>
<rect x="191.0" y="3314.8" width="1428.60" height="1105.00" fill="none" stroke="#000" stroke-width="2.2"/>
<rect x="1442.3" y="3361.60" width="306.00" height="1014.40" fill="#fff" stroke="#000" stroke-opacity="0.12" stroke-width="6.0"/>
<rect x="1442.3" y="3361.60" width="306.00" height="1014.40" fill="none" stroke="#000" stroke-width="2.2"/>
<path d="M1472.8 3396.90H1539.8" stroke="#800000" stroke-width="2.7"/>
<path d="M1472.8 3463.72H1539.8" stroke="#d10000" stroke-width="2.7"/>
<path d="M1472.8 3530.54H1539.8" stroke="#ff3000" stroke-width="2.7"/>
<path d="M1472.8 3597.36H1539.8" stroke="#ff7300" stroke-width="2.7"/>
<path d="M1472.8 3664.18H1539.8" stroke="#ffb900" stroke-width="2.7"/>
<path d="M1472.8 3731.00H1539.8" stroke="#f1fc06" stroke-width="2.7"/>
<path d="M1472.8 3797.82H1539.8" stroke="#b7ff40" stroke-width="2.7"/>
<path d="M1472.8 3864.64H1539.8" stroke="#7dff7a" stroke-width="2.7"/>
<path d="M1472.8 3931.46H1539.8" stroke="#40ffb7" stroke-width="2.7"/>
<path d="M1472.8 3998.28H1539.8" stroke="#06ecf1" stroke-width="2.7"/>
<path d="M1472.8 4065.10H1539.8" stroke="#00a4ff" stroke-width="2.7"/>
<path d="M1472.8 4131.92H1539.8" stroke="#0058ff" stroke-width="2.7"/>
<path d="M1472.8 4198.74H1539.8" stroke="#0010ff" stroke-width="2.7"/>
<path d="M1472.8 4265.56H1539.8" stroke="#0000d1" stroke-width="2.7"/>
<path d="M1472.8 4332.38H1539.8" stroke="#000080" stroke-width="2.7"/>
</g>
<text id="t0_title" class="thin2" x="331.40" y="69.70" font-size="44.5" textLength="1143.42" lengthAdjust="spacing">GPS - 1 Hz - A-VADASE-LOO Displacements - East</text>
<text id="t0_ytl0.0" class="thin" x="115.40" y="1037.40" font-size="40.6" textLength="60.95" lengthAdjust="spacing">0.0</text>
<text id="t0_ytl0.5" class="thin" x="114.80" y="761.00" font-size="40.6" textLength="61.25" lengthAdjust="spacing">0.5</text>
<text id="t0_ytl1.0" class="thin" x="118.00" y="484.60" font-size="40.6" textLength="60.75" lengthAdjust="spacing">1.0</text>
<text id="t0_ytl1.5" class="thin" x="118.00" y="208.20" font-size="40.6" textLength="59.65" lengthAdjust="spacing">1.5</text>
<text id="t0_xtl24050" class="thin" x="423.20" y="1237.90" font-size="40.6" textLength="134.18" lengthAdjust="spacing">24,050</text>
<text id="t0_xtl24100" class="thin" x="799.00" y="1237.90" font-size="40.6" textLength="133.98" lengthAdjust="spacing">24,100</text>
<text id="t0_xtl24150" class="thin" x="1174.80" y="1237.90" font-size="40.6" textLength="133.48" lengthAdjust="spacing">24,150</text>
<text id="t0_xtl24200" class="thin" x="1550.80" y="1237.90" font-size="40.6" textLength="132.98" lengthAdjust="spacing">24,200</text>
<text id="t0_xlab" class="thin" x="728.00" y="1295.00" font-size="40.5" textLength="351.58" lengthAdjust="spacing">Sec of week (GPS)</text>
<text id="t0_ylab" class="thin" transform="translate(88.10,812.60) rotate(-90)" font-size="40.5" textLength="344.36" lengthAdjust="spacing">Displacement (m)</text>
<text id="t0_legPSAN" x="1588.80" y="185.10" font-size="43.8" textLength="122.25" lengthAdjust="spacing">PSAN</text>
<text id="t0_legCAOC" x="1587.80" y="251.92" font-size="43.8" textLength="130.93" lengthAdjust="spacing">CAOC</text>
<text id="t0_legBARS" x="1589.00" y="318.74" font-size="43.8" textLength="123.65" lengthAdjust="spacing">BARS</text>
<text id="t0_legGRAM" x="1588.40" y="385.56" font-size="43.8" textLength="136.74" lengthAdjust="spacing">GRAM</text>
<text id="t0_legFRMO" x="1589.00" y="452.38" font-size="43.8" textLength="133.99" lengthAdjust="spacing">FRMO</text>
<text id="t0_legROPI" x="1589.00" y="519.20" font-size="43.8" textLength="109.53" lengthAdjust="spacing">ROPI</text>
<text id="t0_legTOD3" x="1588.80" y="586.02" font-size="43.8" textLength="129.43" lengthAdjust="spacing">TOD3</text>
<text id="t0_legCONI" x="1587.80" y="652.84" font-size="43.8" textLength="115.23" lengthAdjust="spacing">CONI</text>
<text id="t0_legRIET" x="1589.00" y="719.66" font-size="43.8" textLength="102.48" lengthAdjust="spacing">RIET</text>
<text id="t0_legTERI" x="1588.80" y="786.48" font-size="43.8" textLength="102.78" lengthAdjust="spacing">TERI</text>
<text id="t0_legGNAL" x="1587.80" y="853.30" font-size="43.8" textLength="125.76" lengthAdjust="spacing">GNAL</text>
<text id="t0_legMTTO" x="1589.00" y="920.12" font-size="43.8" textLength="132.90" lengthAdjust="spacing">MTTO</text>
<text id="t0_legMTER" x="1589.00" y="986.94" font-size="43.8" textLength="129.16" lengthAdjust="spacing">MTER</text>
<text id="t0_legFOL1" x="1589.00" y="1053.76" font-size="43.8" textLength="116.84" lengthAdjust="spacing">FOL1</text>
<text id="t0_legARQT" x="1587.80" y="1120.58" font-size="43.8" textLength="126.92" lengthAdjust="spacing">ARQT</text>
<text id="t0_cap" class="cap" x="759.20" y="1437.50" font-size="76" textLength="241.47" lengthAdjust="spacing">(<tspan font-weight="bold">a</tspan>) East</text>
<text id="t1_title" class="thin2" x="319.00" y="1683.00" font-size="44.5" textLength="1170.96" lengthAdjust="spacing">GPS - 1 Hz - A-VADASE-LOO Displacements - North</text>
<text id="t1_ytl0.0" class="thin" x="115.40" y="2650.80" font-size="40.6" textLength="60.95" lengthAdjust="spacing">0.0</text>
<text id="t1_ytl0.5" class="thin" x="114.80" y="2374.40" font-size="40.6" textLength="61.25" lengthAdjust="spacing">0.5</text>
<text id="t1_ytl1.0" class="thin" x="118.00" y="2098.00" font-size="40.6" textLength="60.75" lengthAdjust="spacing">1.0</text>
<text id="t1_ytl1.5" class="thin" x="118.00" y="1821.60" font-size="40.6" textLength="59.65" lengthAdjust="spacing">1.5</text>
<text id="t1_xtl24050" class="thin" x="423.20" y="2851.40" font-size="40.6" textLength="134.18" lengthAdjust="spacing">24,050</text>
<text id="t1_xtl24100" class="thin" x="799.00" y="2851.40" font-size="40.6" textLength="133.98" lengthAdjust="spacing">24,100</text>
<text id="t1_xtl24150" class="thin" x="1174.80" y="2851.40" font-size="40.6" textLength="133.48" lengthAdjust="spacing">24,150</text>
<text id="t1_xtl24200" class="thin" x="1550.80" y="2851.40" font-size="40.6" textLength="132.98" lengthAdjust="spacing">24,200</text>
<text id="t1_xlab" class="thin" x="728.00" y="2908.50" font-size="40.5" textLength="351.58" lengthAdjust="spacing">Sec of week (GPS)</text>
<text id="t1_ylab" class="thin" transform="translate(88.10,2425.60) rotate(-90)" font-size="40.5" textLength="344.36" lengthAdjust="spacing">Displacement (m)</text>
<text id="t1_legPSAN" x="1588.80" y="1798.60" font-size="43.8" textLength="122.25" lengthAdjust="spacing">PSAN</text>
<text id="t1_legCAOC" x="1587.80" y="1865.42" font-size="43.8" textLength="130.93" lengthAdjust="spacing">CAOC</text>
<text id="t1_legBARS" x="1589.00" y="1932.24" font-size="43.8" textLength="123.65" lengthAdjust="spacing">BARS</text>
<text id="t1_legGRAM" x="1588.40" y="1999.06" font-size="43.8" textLength="136.74" lengthAdjust="spacing">GRAM</text>
<text id="t1_legFRMO" x="1589.00" y="2065.88" font-size="43.8" textLength="133.99" lengthAdjust="spacing">FRMO</text>
<text id="t1_legROPI" x="1589.00" y="2132.70" font-size="43.8" textLength="109.53" lengthAdjust="spacing">ROPI</text>
<text id="t1_legTOD3" x="1588.80" y="2199.52" font-size="43.8" textLength="129.43" lengthAdjust="spacing">TOD3</text>
<text id="t1_legCONI" x="1587.80" y="2266.34" font-size="43.8" textLength="115.23" lengthAdjust="spacing">CONI</text>
<text id="t1_legRIET" x="1589.00" y="2333.16" font-size="43.8" textLength="102.48" lengthAdjust="spacing">RIET</text>
<text id="t1_legTERI" x="1588.80" y="2399.98" font-size="43.8" textLength="102.78" lengthAdjust="spacing">TERI</text>
<text id="t1_legGNAL" x="1587.80" y="2466.80" font-size="43.8" textLength="125.76" lengthAdjust="spacing">GNAL</text>
<text id="t1_legMTTO" x="1589.00" y="2533.62" font-size="43.8" textLength="132.90" lengthAdjust="spacing">MTTO</text>
<text id="t1_legMTER" x="1589.00" y="2600.44" font-size="43.8" textLength="129.16" lengthAdjust="spacing">MTER</text>
<text id="t1_legFOL1" x="1589.00" y="2667.26" font-size="43.8" textLength="116.84" lengthAdjust="spacing">FOL1</text>
<text id="t1_legARQT" x="1587.80" y="2734.08" font-size="43.8" textLength="126.92" lengthAdjust="spacing">ARQT</text>
<text id="t1_cap" class="cap" x="725.00" y="3051.90" font-size="76" textLength="312.22" lengthAdjust="spacing">(<tspan font-weight="bold">b</tspan>) North</text>
<text id="t2_title" class="thin2" x="350.40" y="3296.80" font-size="44.5" textLength="1106.12" lengthAdjust="spacing">GPS - 1 Hz - A-VADASE-LOO Displacements - Up</text>
<text id="t2_ytl-0.5" class="thin" x="85.60" y="4381.77" font-size="40.6" textLength="92.25" lengthAdjust="spacing">−0.5</text>
<text id="t2_ytl0.0" class="thin" x="115.40" y="4141.60" font-size="40.6" textLength="60.95" lengthAdjust="spacing">0.0</text>
<text id="t2_ytl0.5" class="thin" x="114.80" y="3901.42" font-size="40.6" textLength="61.25" lengthAdjust="spacing">0.5</text>
<text id="t2_ytl1.0" class="thin" x="118.00" y="3661.25" font-size="40.6" textLength="60.75" lengthAdjust="spacing">1.0</text>
<text id="t2_ytl1.5" class="thin" x="118.00" y="3421.07" font-size="40.6" textLength="59.65" lengthAdjust="spacing">1.5</text>
<text id="t2_xtl24050" class="thin" x="423.20" y="4465.30" font-size="40.6" textLength="134.18" lengthAdjust="spacing">24,050</text>
<text id="t2_xtl24100" class="thin" x="799.00" y="4465.30" font-size="40.6" textLength="133.98" lengthAdjust="spacing">24,100</text>
<text id="t2_xtl24150" class="thin" x="1174.80" y="4465.30" font-size="40.6" textLength="133.48" lengthAdjust="spacing">24,150</text>
<text id="t2_xtl24200" class="thin" x="1550.80" y="4465.30" font-size="40.6" textLength="132.98" lengthAdjust="spacing">24,200</text>
<text id="t2_xlab" class="thin" x="728.00" y="4522.40" font-size="40.5" textLength="351.58" lengthAdjust="spacing">Sec of week (GPS)</text>
<text id="t2_ylab" class="thin" transform="translate(55.90,4040.60) rotate(-90)" font-size="40.5" textLength="344.36" lengthAdjust="spacing">Displacement (m)</text>
<text id="t2_legPSAN" x="1588.80" y="3412.50" font-size="43.8" textLength="122.25" lengthAdjust="spacing">PSAN</text>
<text id="t2_legCAOC" x="1587.80" y="3479.32" font-size="43.8" textLength="130.93" lengthAdjust="spacing">CAOC</text>
<text id="t2_legBARS" x="1589.00" y="3546.14" font-size="43.8" textLength="123.65" lengthAdjust="spacing">BARS</text>
<text id="t2_legGRAM" x="1588.40" y="3612.96" font-size="43.8" textLength="136.74" lengthAdjust="spacing">GRAM</text>
<text id="t2_legFRMO" x="1589.00" y="3679.78" font-size="43.8" textLength="133.99" lengthAdjust="spacing">FRMO</text>
<text id="t2_legROPI" x="1589.00" y="3746.60" font-size="43.8" textLength="109.53" lengthAdjust="spacing">ROPI</text>
<text id="t2_legTOD3" x="1588.80" y="3813.42" font-size="43.8" textLength="129.43" lengthAdjust="spacing">TOD3</text>
<text id="t2_legCONI" x="1587.80" y="3880.24" font-size="43.8" textLength="115.23" lengthAdjust="spacing">CONI</text>
<text id="t2_legRIET" x="1589.00" y="3947.06" font-size="43.8" textLength="102.48" lengthAdjust="spacing">RIET</text>
<text id="t2_legTERI" x="1588.80" y="4013.88" font-size="43.8" textLength="102.78" lengthAdjust="spacing">TERI</text>
<text id="t2_legGNAL" x="1587.80" y="4080.70" font-size="43.8" textLength="125.76" lengthAdjust="spacing">GNAL</text>
<text id="t2_legMTTO" x="1589.00" y="4147.52" font-size="43.8" textLength="132.90" lengthAdjust="spacing">MTTO</text>
<text id="t2_legMTER" x="1589.00" y="4214.34" font-size="43.8" textLength="129.16" lengthAdjust="spacing">MTER</text>
<text id="t2_legFOL1" x="1589.00" y="4281.16" font-size="43.8" textLength="116.84" lengthAdjust="spacing">FOL1</text>
<text id="t2_legARQT" x="1587.80" y="4347.98" font-size="43.8" textLength="126.92" lengthAdjust="spacing">ARQT</text>
<text id="t2_cap" class="cap" x="777.80" y="4663.60" font-size="76" textLength="202.55" lengthAdjust="spacing">(<tspan font-weight="bold">c</tspan>) Up</text>
</g>
</svg></body></html>
